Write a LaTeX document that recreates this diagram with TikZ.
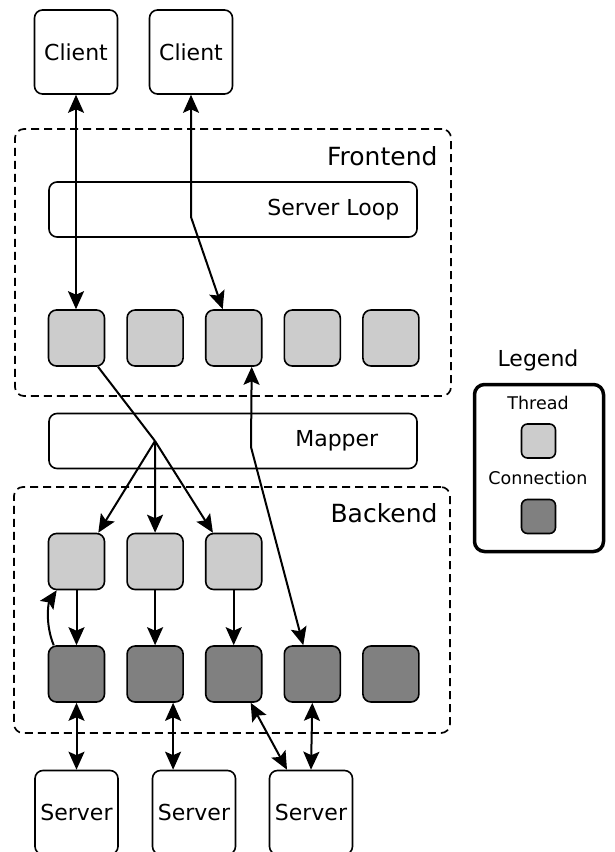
\documentclass[tikz,border=0pt]{standalone}
\usepackage{fontspec}
\setmainfont{DejaVu Sans}
\usetikzlibrary{arrows.meta,positioning}

\begin{document}
\begin{tikzpicture}[
    x=1pt, y=-1pt,
    node distance=21pt,
    >={Stealth[length=18pt, width=16pt, inset=3.5pt]},
    endbox/.style={draw, line width=1.6pt, rounded corners=8pt, minimum width=83pt, minimum height=84pt, font=\fontsize{22}{26}\selectfont},
    group/.style={draw, dash pattern=on 8pt off 5pt, line width=1.7pt, rounded corners=9pt},
    bar/.style={draw, line width=1.6pt, rounded corners=8pt, minimum width=368pt, minimum height=55pt},
    thread/.style={draw, line width=1.6pt, rounded corners=8pt, minimum size=56pt, fill=black!20},
    conn/.style={thread, fill=black!50},
    small/.style={thread, minimum size=34pt, rounded corners=6pt},
    title/.style={font=\fontsize{25}{30}\selectfont},
    label/.style={font=\fontsize{22}{26}\selectfont},
    note/.style={font=\fontsize{17.5}{21}\selectfont},
    link/.style={->, line width=2pt},
    both/.style={<->, line width=2pt}
]
\useasboundingbox (0,0) rectangle (615,852);

\node[group, minimum width=436pt, minimum height=267pt] (frontend) at (233,262.5) {};
\node[title, anchor=east] (fetitle) at (441,156) {Frontend};
\node[group, minimum width=436pt, minimum height=246pt] (backend) at (232,610) {};
\node[title, anchor=east] (betitle) at (441,513) {Backend};

\node[endbox] (client1) at (76,52) {Client};
\node[endbox] (client2) at (191,52) {Client};

\node[bar] (loop) at (233,209.5) {};
\node[label, anchor=east, xshift=-15pt] (looptext) at (loop.east) {Server Loop};

\node[thread] (fe1) at (76.5,338) {};
\node[thread, right=of fe1] (fe2) {};
\node[thread, right=of fe2] (fe3) {};
\node[thread, right=of fe3] (fe4) {};
\node[thread, right=of fe4] (fe5) {};

\node[bar] (mapper) at (233,441) {};
\node[label, anchor=east, xshift=-36pt] (mappertext) at (mapper.east) {Mapper};

\node[thread] (be1) at (76.5,561.5) {};
\node[thread, right=of be1] (be2) {};
\node[thread, right=of be2] (be3) {};

\node[conn] (conn1) at (76.5,674) {};
\node[conn, right=of conn1] (conn2) {};
\node[conn, right=of conn2] (conn3) {};
\node[conn, right=of conn3] (conn4) {};
\node[conn, right=of conn4] (conn5) {};

\node[endbox] (server1) at (76.5,812.5) {Server};
\node[endbox] (server2) at (194,812.5) {Server};
\node[endbox] (server3) at (311,812.5) {Server};

\node[label] (legendtitle) at (538,360) {Legend};
\node[draw, line width=3.5pt, rounded corners=10pt, minimum width=129pt, minimum height=167pt] (legend) at (539,468) {};
\node[note] (threadtext) at (538,403) {Thread};
\node[small] (threadkey) at (538.5,441) {};
\node[note] (conntext) at (538,478) {Connection};
\node[small, fill=black!50] (connkey) at (538.5,516.5) {};

\coordinate (c2bend) at (191,217);
\coordinate (split) at (155,441);
\coordinate (c4bend) at (251,447);

\draw[both] (client1.south) -- (client1.south |- fe1.north);
\draw[both] (client2.south) -- (c2bend) -- ([xshift=-11pt]fe3.north);
\draw[line width=2pt] ([xshift=21.5pt]fe1.south) -- (split);
\draw[link] (split) -- ([xshift=-7pt]be1.north east);
\draw[link] (split) -- (be2.north);
\draw[link] (split) -- ([xshift=8pt]be3.north west);
\draw[both] ([xshift=-9pt]conn4.north) -- (c4bend) -- ([xshift=18pt]fe3.south);

\draw[link] (be1) -- (conn1);
\draw[link] (be2) -- (conn2);
\draw[link] (be3) -- (conn3);
\draw[link] ([xshift=6pt]conn1.north west) .. controls +(-9,-22) and +(-8,12) .. ([xshift=9pt]be1.south west);

\draw[both] (conn1.south) -- (server1.north);
\draw[both] ([xshift=18pt]conn2.south) -- ([xshift=18pt]conn2.south |- server2.north);
\draw[both] ([xshift=17pt]conn3.south) -- ([xshift=-24pt]server3.north);
\draw[both] (conn4.south) -- (server3.north);
\end{tikzpicture}
\end{document}
